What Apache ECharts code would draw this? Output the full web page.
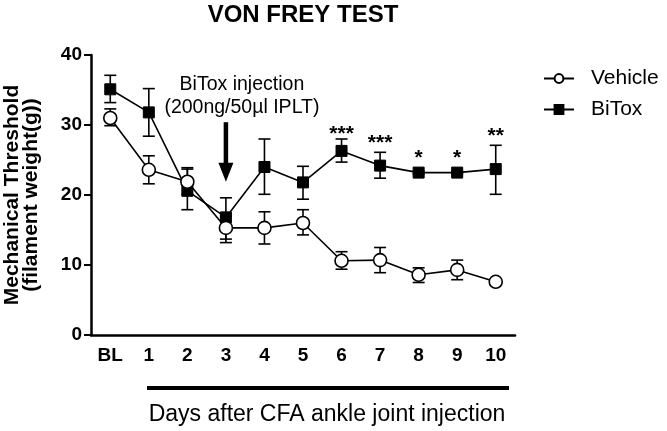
<!DOCTYPE html>
<html>
<head>
<meta charset="utf-8">
<script src="https://cdn.jsdelivr.net/npm/echarts@6/dist/echarts.min.js"></script>
<style>
html,body{margin:0;padding:0;background:#fff;}
#chart{width:667px;height:431px;}
</style>
</head>
<body>
<div id="chart"></div>
<script>
// ---- data ----
var categories = ['BL','1','2','3','4','5','6','7','8','9','10'];
var vehicleMean = [31.0, 23.6, 21.9, 15.3, 15.3, 16.0, 10.6, 10.7, 8.6, 9.3, 7.6];
var vehicleLow  = [29.9, 21.6, 20.1, 13.2, 13.0, 14.3, 9.4, 8.9, 7.5, 7.9, 7.6];
var vehicleHigh = [32.3, 25.6, 23.7, 17.0, 17.6, 17.9, 11.9, 12.5, 9.6, 10.7, 7.6];
var bitoxMean = [35.1, 31.8, 20.6, 16.8, 24.0, 21.8, 26.3, 24.2, 23.2, 23.2, 23.7];
var bitoxLow  = [33.2, 28.4, 17.9, 13.7, 20.1, 19.4, 24.7, 22.4, 23.0, 23.0, 20.1];
var bitoxHigh = [37.1, 35.2, 23.9, 19.6, 28.0, 24.1, 28.0, 26.1, 23.4, 23.4, 27.1];
var sigCats = ['6','7','8','9','10'];
var sigLevels = [29.3, 28.0, 25.8, 25.8, 28.9];
var sigMarks = ['***','***','*','*','**'];
var injectionDay = '3';
var arrowTop = 30.4;
var arrowTip = 21.9;
var injectionLines = ['BiTox injection', '(200ng/50\u00b5l IPLT)'];
var injectionLineLevels = [35.8, 32.5];
var yTicks = [0, 10, 20, 30, 40];

var FONT = '"Liberation Sans", Arial, sans-serif';

function errData(low, high) {
  return categories.map(function (c, i) { return [i, low[i], high[i]]; });
}

function errRender(params, api) {
  var lo = api.coord([api.value(0), api.value(1)]);
  var hi = api.coord([api.value(0), api.value(2)]);
  var w = 6;
  var st = { stroke: '#000', lineWidth: 1.6 };
  return {
    type: 'group',
    children: [
      { type: 'line', shape: { x1: lo[0], y1: lo[1], x2: hi[0], y2: hi[1] }, style: st },
      { type: 'line', shape: { x1: lo[0] - w, y1: lo[1], x2: lo[0] + w, y2: lo[1] }, style: st },
      { type: 'line', shape: { x1: hi[0] - w, y1: hi[1], x2: hi[0] + w, y2: hi[1] }, style: st }
    ]
  };
}

var chart = echarts.init(document.getElementById('chart'), null, { renderer: 'canvas' });

var option = {
  backgroundColor: '#fff',
  animation: false,
  textStyle: { fontFamily: FONT },
  graphic: [
    { type: 'text', x: 303, y: 15, style: { text: 'VON FREY TEST', fontFamily: FONT, fontSize: 24, fontWeight: 'bold', fill: '#000', align: 'center', verticalAlign: 'middle' } },
    { type: 'line', shape: { x1: 147, y1: 388, x2: 509, y2: 388 }, style: { stroke: '#000', lineWidth: 4 } },
    { type: 'text', x: 327, y: 415, style: { text: 'Days after CFA ankle joint injection', fontFamily: FONT, fontSize: 23, fill: '#000', align: 'center', verticalAlign: 'middle' } }
  ],
  legend: {
    data: ['Vehicle', 'BiTox'],
    orient: 'vertical',
    left: 538,
    top: 63,
    itemWidth: 30,
    itemHeight: 11,
    itemGap: 10,
    textStyle: { fontFamily: FONT, fontSize: 21, color: '#000', padding: [0, 0, 0, 12] }
  },
  grid: { left: 91, right: 152, top: 55, bottom: 96, containLabel: false, outerBoundsMode: 'none' },
  xAxis: {
    type: 'category',
    data: categories,
    boundaryGap: true,
    axisLine: { lineStyle: { color: '#000', width: 2.5 } },
    axisTick: { alignWithLabel: true, length: 8, lineStyle: { color: '#000', width: 2 } },
    axisLabel: { margin: 11, color: '#000', fontFamily: FONT, fontSize: 19, fontWeight: 'bold' },
    splitLine: { show: false }
  },
  yAxis: {
    type: 'value',
    min: yTicks[0],
    max: yTicks[yTicks.length - 1],
    interval: yTicks[1] - yTicks[0],
    name: 'Mechanical Threshold\n(filament weight(g))',
    nameLocation: 'middle',
    nameRotate: 90,
    nameGap: 50,
    nameTextStyle: { fontFamily: FONT, fontSize: 21, fontWeight: 'bold', color: '#000', lineHeight: 19 },
    axisLine: { show: true, lineStyle: { color: '#000', width: 2.5 } },
    axisTick: { show: true, length: 7, lineStyle: { color: '#000', width: 2 } },
    axisLabel: { margin: 9, color: '#000', fontFamily: FONT, fontSize: 19, fontWeight: 'bold' },
    splitLine: { show: false }
  },
  series: [
    {
      type: 'custom', name: 'bitoxErr', renderItem: errRender, data: errData(bitoxLow, bitoxHigh), z: 2, silent: true
    },
    {
      type: 'custom', name: 'vehicleErr', renderItem: errRender, data: errData(vehicleLow, vehicleHigh), z: 2, silent: true
    },
    {
      name: 'BiTox', type: 'line', data: bitoxMean, z: 3,
      symbol: 'rect', symbolSize: 11,
      lineStyle: { color: '#000', width: 1.6 },
      itemStyle: { color: '#000', borderColor: '#000', borderWidth: 1 }
    },
    {
      name: 'Vehicle', type: 'line', data: vehicleMean, z: 4,
      symbol: 'circle', symbolSize: 13,
      lineStyle: { color: '#000', width: 1.6 },
      itemStyle: { color: '#fff', borderColor: '#000', borderWidth: 1.6 }
    },
    {
      type: 'custom', name: 'sig', silent: true, z: 5,
      data: sigCats.map(function (c, i) { return [categories.indexOf(c), sigLevels[i], i]; }),
      renderItem: function (params, api) {
        var p = api.coord([api.value(0), api.value(1)]);
        return {
          type: 'text', x: p[0], y: p[1] + 4,
          style: { text: sigMarks[api.value(2)], fontFamily: FONT, fontSize: 21, fontWeight: 'bold', fill: '#000', align: 'center', verticalAlign: 'middle' }
        };
      }
    },
    {
      type: 'custom', name: 'injection', silent: true, z: 5,
      data: [[categories.indexOf(injectionDay), arrowTop, arrowTip]],
      renderItem: function (params, api) {
        var top = api.coord([api.value(0), api.value(1)]);
        var tip = api.coord([api.value(0), api.value(2)]);
        var headH = 19, headW = 7.5;
        var children = [
          { type: 'line', shape: { x1: top[0], y1: top[1], x2: tip[0], y2: tip[1] - headH + 1 }, style: { stroke: '#000', lineWidth: 4.5 } },
          { type: 'polygon', shape: { points: [[tip[0] - headW, tip[1] - headH], [tip[0] + headW, tip[1] - headH], [tip[0], tip[1]]] }, style: { fill: '#000' } }
        ];
        injectionLines.forEach(function (t, i) {
          var p = api.coord([api.value(0), injectionLineLevels[i]]);
          children.push({ type: 'text', x: p[0] + 16, y: p[1], style: { text: t, fontFamily: FONT, fontSize: 19.5, fill: '#000', align: 'center', verticalAlign: 'middle' } });
        });
        return { type: 'group', children: children };
      }
    }
  ]
};
chart.setOption(option);
</script>
</body>
</html>
